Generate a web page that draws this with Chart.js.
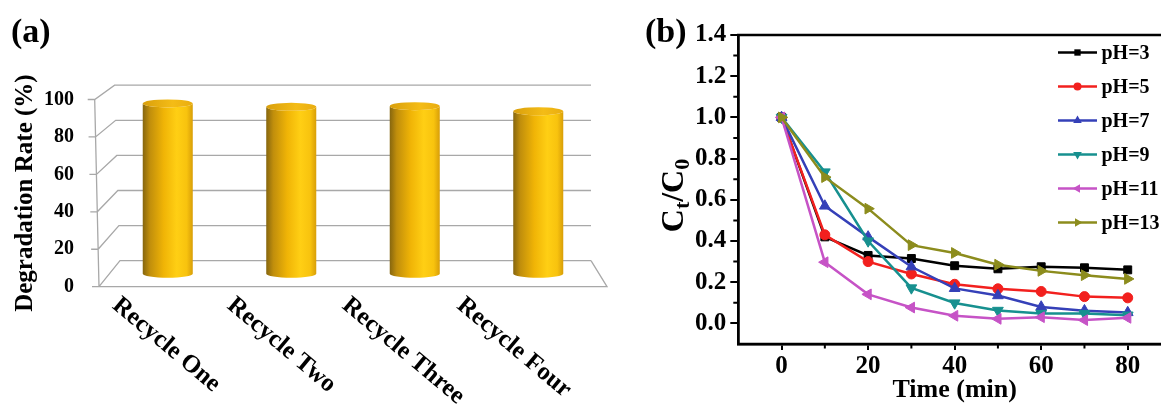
<!DOCTYPE html>
<html>
<head>
<meta charset="utf-8">
<script src="https://cdn.jsdelivr.net/npm/chart.js@4.4.1/dist/chart.umd.min.js"></script>
<style>
  html, body { margin: 0; padding: 0; width: 1161px; height: 406px; overflow: hidden; background: #fff; }
  #wrapA { position: absolute; left: 0; top: 0; width: 620px; height: 406px; }
  #wrapB { position: absolute; left: 640px; top: 0; width: 560px; height: 406px; }
  canvas { display: block; }
</style>
</head>
<body>
<div id="wrapA"><canvas id="cylChart" width="620" height="406"></canvas></div>
<div id="wrapB"><canvas id="phChart" width="560" height="406"></canvas></div>
<script>
// ---- (a) recycling test ----
const recycleLabels = ['Recycle One', 'Recycle Two', 'Recycle Three', 'Recycle Four'];
const degradationRate = [93.9, 92.0, 92.4, 89.6];
const rateTicks = [0, 20, 40, 60, 80, 100];

// ---- (b) effect of pH ----
const timeMin = [0, 10, 20, 30, 40, 50, 60, 70, 80];
const ph3  = [1.0, 0.42, 0.33, 0.315, 0.28, 0.265, 0.275, 0.27, 0.26];
const ph5  = [1.0, 0.43, 0.30, 0.24, 0.19, 0.168, 0.155, 0.13, 0.124];
const ph7  = [1.0, 0.57, 0.42, 0.275, 0.17, 0.135, 0.08, 0.062, 0.053];
const ph9  = [1.0, 0.735, 0.40, 0.172, 0.099, 0.063, 0.048, 0.048, 0.04];
const ph11 = [1.0, 0.297, 0.141, 0.077, 0.037, 0.022, 0.03, 0.016, 0.027];
const ph13 = [1.0, 0.71, 0.557, 0.38, 0.342, 0.285, 0.255, 0.234, 0.216];
const phNames = ['pH=3', 'pH=5', 'pH=7', 'pH=9', 'pH=11', 'pH=13'];
const ratioTicks = [0, 0.2, 0.4, 0.6, 0.8, 1.0, 1.2, 1.4];
const ratioMinorTicks = [0.1, 0.3, 0.5, 0.7, 0.9, 1.1, 1.3];
const timeTicks = [0, 20, 40, 60, 80];
const timeMinorTicks = [10, 30, 50, 70];

const SERIF = '"Liberation Serif", "Times New Roman", Times, serif';

// ---------- panel (a): 3D cylinder columns ----------
// geometry of the box (front plane is the value scale, back wall is shifted up/right)
function boxGeometry(chart) {
  const ys = chart.scales.y, a = chart.chartArea;
  return {
    fy: v => ys.getPixelForValue(v),
    depth: v => -26 + 11.7 * v / 100,
    fxL: v => a.left - 7 - 4.3 * v / 100,
    bxL: v => a.left + 14 - 5.4 * v / 100,
    bxR: a.right - 9,
    fxR: a.right + 7
  };
}

const boxPlugin = {
  id: 'box3d',
  beforeDatasetsDraw(chart) {
    const ctx = chart.ctx, g = boxGeometry(chart);
    ctx.save();
    ctx.strokeStyle = '#a8a8a8';
    ctx.lineWidth = 1.3;
    ctx.beginPath();
    // floor front edge and right side
    ctx.moveTo(g.fxL(0), g.fy(0));
    ctx.lineTo(g.fxR, g.fy(0));
    ctx.lineTo(g.bxR, g.fy(0) + g.depth(0));
    // front vertical edge
    ctx.moveTo(g.fxL(0), g.fy(0));
    ctx.lineTo(g.fxL(100), g.fy(100));
    // tick marks, side-wall diagonals and back-wall gridlines
    rateTicks.forEach(v => {
      const y = g.fy(v), yb = y + g.depth(v);
      ctx.moveTo(g.fxL(v) - 7, y);
      ctx.lineTo(g.fxL(v), y);
      ctx.lineTo(g.bxL(v), yb);
      ctx.lineTo(g.bxR, yb);
    });
    ctx.stroke();
    ctx.restore();
  },
  afterDatasetsDraw(chart) {
    const ctx = chart.ctx, g = boxGeometry(chart);
    const meta = chart.getDatasetMeta(0);
    const values = chart.data.datasets[0].data;
    meta.data.forEach((el, i) => {
      const v = values[i];
      const cx = el.x, r = el.width / 2, ry = 4;
      const top = g.fy(v) + g.depth(v) / 2;
      const bot = g.fy(0) + g.depth(0) / 2;
      const body = ctx.createLinearGradient(cx - r, 0, cx + r, 0);
      body.addColorStop(0, '#86660f');
      body.addColorStop(0.14, '#c08e0c');
      body.addColorStop(0.42, '#f0b406');
      body.addColorStop(0.68, '#ffcf14');
      body.addColorStop(0.88, '#f8c30e');
      body.addColorStop(1, '#d89e08');
      ctx.save();
      ctx.beginPath();
      ctx.moveTo(cx - r, top);
      ctx.lineTo(cx - r, bot);
      ctx.ellipse(cx, bot, r, ry, 0, Math.PI, 0, true);
      ctx.lineTo(cx + r, top);
      ctx.ellipse(cx, top, r, ry, 0, 0, Math.PI, false);
      ctx.closePath();
      ctx.fillStyle = body;
      ctx.fill();
      const cap = ctx.createLinearGradient(cx - r, 0, cx + r, 0);
      cap.addColorStop(0, '#d99f0c');
      cap.addColorStop(0.6, '#f4bc16');
      cap.addColorStop(1, '#e9ad10');
      ctx.beginPath();
      ctx.ellipse(cx, top, r, ry, 0, 0, Math.PI * 2);
      ctx.fillStyle = cap;
      ctx.fill();
      ctx.restore();
    });
  },
  afterDraw(chart) {
    const ctx = chart.ctx, a = chart.chartArea, xs = chart.scales.x;
    ctx.save();
    ctx.fillStyle = '#000';
    // category labels, turned clockwise
    ctx.font = 'bold 25px ' + SERIF;
    ctx.textAlign = 'left';
    ctx.textBaseline = 'top';
    chart.data.labels.forEach((lab, i) => {
      const tx = xs.getPixelForTick(i);
      const ax = a.left + (tx - a.left) * 0.93 - 40;
      ctx.save();
      ctx.translate(ax, a.bottom + 6);
      ctx.rotate(40 * Math.PI / 180);
      ctx.fillText(lab, 0, 0);
      ctx.restore();
    });
    // panel tag
    ctx.font = 'bold 34px ' + SERIF;
    ctx.textBaseline = 'alphabetic';
    ctx.fillText('(a)', 11, 42);
    ctx.restore();
  }
};

new Chart(document.getElementById('cylChart'), {
  type: 'bar',
  data: {
    labels: recycleLabels,
    datasets: [{
      data: degradationRate,
      backgroundColor: 'rgba(0,0,0,0)',
      borderWidth: 0,
      barPercentage: 0.405,
      categoryPercentage: 1
    }]
  },
  options: {
    responsive: false,
    devicePixelRatio: 1,
    animation: false,
    layout: { padding: { top: 99.5, right: 20, bottom: 0, left: 0 } },
    plugins: { legend: { display: false }, tooltip: { enabled: false } },
    scales: {
      x: {
        ticks: { display: false },
        grid: { display: false },
        border: { display: false },
        afterFit: s => { s.height = 119.3; }
      },
      y: {
        min: 0, max: 100,
        afterBuildTicks: s => { s.ticks = rateTicks.map(v => ({ value: v })); },
        afterFit: s => { s.width = 106; },
        grid: { display: false, drawTicks: false },
        border: { display: false },
        ticks: { color: '#000', padding: 32, font: { family: SERIF, size: 20, weight: 'bold' } },
        title: {
          display: true, text: 'Degradation Rate (%)', color: '#000',
          font: { family: SERIF, size: 25, weight: 'bold' },
          padding: { top: 11, bottom: 0 }
        }
      }
    }
  },
  plugins: [boxPlugin]
});

// ---------- panel (b): Ct/C0 versus time ----------
const phSeries = [ph3, ph5, ph7, ph9, ph11, ph13];
const phColors = ['#000000', '#f2201e', '#3540b8', '#17908f', '#c653c6', '#8c8c1d'];
const phMarkers = [
  { style: 'rect', rot: 0, r: 5.6 },
  { style: 'circle', rot: 0, r: 5 },
  { style: 'triangle', rot: 0, r: 6.2 },
  { style: 'triangle', rot: 180, r: 6.2 },
  { style: 'triangle', rot: 270, r: 6.2 },
  { style: 'triangle', rot: 90, r: 6.2 }
];

function drawMarker(ctx, m, x, y, r) {
  ctx.save();
  ctx.translate(x, y);
  ctx.rotate(m.rot * Math.PI / 180);
  ctx.beginPath();
  if (m.style === 'rect') {
    const s = r * Math.SQRT1_2;
    ctx.rect(-s, -s, 2 * s, 2 * s);
  } else if (m.style === 'circle') {
    ctx.arc(0, 0, r, 0, Math.PI * 2);
  } else {
    ctx.moveTo(0, -r);
    ctx.lineTo(r * 0.866, r * 0.5);
    ctx.lineTo(-r * 0.866, r * 0.5);
    ctx.closePath();
  }
  ctx.fill();
  ctx.restore();
}

const framePlugin = {
  id: 'frameAndLegend',
  afterDraw(chart) {
    const ctx = chart.ctx, a = chart.chartArea;
    const xs = chart.scales.x, ys = chart.scales.y;
    ctx.save();
    ctx.strokeStyle = '#000';
    ctx.lineWidth = 2.5;
    ctx.strokeRect(a.left, a.top, a.right - a.left, a.bottom - a.top);
    // minor ticks
    ctx.lineWidth = 2;
    ctx.beginPath();
    ratioMinorTicks.forEach(v => {
      const y = ys.getPixelForValue(v);
      ctx.moveTo(a.left, y);
      ctx.lineTo(a.left - 5, y);
    });
    timeMinorTicks.forEach(v => {
      const x = xs.getPixelForValue(v);
      ctx.moveTo(x, a.bottom);
      ctx.lineTo(x, a.bottom + 4.5);
    });
    ctx.stroke();

    ctx.fillStyle = '#000';
    // y-axis title with subscripts
    ctx.save();
    ctx.translate(43, (a.top + a.bottom) / 2 + 6);
    ctx.rotate(-Math.PI / 2);
    const big = 'bold 32px ' + SERIF, small = 'bold 22px ' + SERIF;
    const parts = [['C', big, 0], ['t', small, 6], ['/', big, 0], ['C', big, 0], ['0', small, 6]];
    let total = 0;
    parts.forEach(p => { ctx.font = p[1]; total += ctx.measureText(p[0]).width; });
    let px = -total / 2;
    ctx.textAlign = 'left';
    ctx.textBaseline = 'alphabetic';
    parts.forEach(p => { ctx.font = p[1]; ctx.fillText(p[0], px, p[2]); px += ctx.measureText(p[0]).width; });
    ctx.restore();

    // legend
    ctx.font = 'bold 20px ' + SERIF;
    ctx.textAlign = 'left';
    ctx.textBaseline = 'middle';
    chart.data.datasets.forEach((ds, i) => {
      const y = 52.5 + i * 34;
      ctx.strokeStyle = ds.borderColor;
      ctx.lineWidth = 2.5;
      ctx.beginPath();
      ctx.moveTo(418, y);
      ctx.lineTo(457, y);
      ctx.stroke();
      ctx.fillStyle = ds.borderColor;
      const m = phMarkers[i];
      drawMarker(ctx, m, 437.5, y, m.r * 0.8);
      ctx.fillStyle = '#000';
      ctx.fillText(ds.label, 461.5, y + 1);
    });

    // panel tag
    ctx.font = 'bold 34px ' + SERIF;
    ctx.textBaseline = 'alphabetic';
    ctx.fillText('(b)', 5, 42);
    ctx.restore();
  }
};

new Chart(document.getElementById('phChart'), {
  type: 'line',
  data: {
    datasets: phSeries.map((vals, i) => ({
      label: phNames[i],
      data: timeMin.map((t, j) => ({ x: t, y: vals[j] })),
      borderColor: phColors[i],
      backgroundColor: phColors[i],
      pointBackgroundColor: phColors[i],
      pointBorderColor: phColors[i],
      pointBorderWidth: 1,
      pointStyle: phMarkers[i].style,
      rotation: phMarkers[i].rot,
      pointRadius: phMarkers[i].r,
      borderWidth: 2.5,
      tension: 0,
      fill: false,
      order: phSeries.length - i
    }))
  },
  options: {
    responsive: false,
    devicePixelRatio: 1,
    animation: false,
    layout: { padding: { top: 35, right: 29, bottom: 0, left: 0 } },
    plugins: { legend: { display: false }, tooltip: { enabled: false } },
    scales: {
      x: {
        type: 'linear', min: -10, max: 90,
        afterBuildTicks: s => { s.ticks = timeTicks.map(v => ({ value: v })); },
        afterFit: s => { s.height = 62; },
        grid: { drawOnChartArea: false, drawTicks: true, tickLength: 6, color: '#000', lineWidth: 2 },
        border: { display: true, color: '#000', width: 2.5 },
        ticks: { color: '#000', padding: 2, font: { family: SERIF, size: 25, weight: 'bold' } },
        title: {
          display: true, text: 'Time (min)', color: '#000',
          font: { family: SERIF, size: 26, weight: 'bold' },
          padding: { top: 0, bottom: 0 }
        }
      },
      y: {
        type: 'linear', min: -0.1, max: 1.4,
        afterBuildTicks: s => { s.ticks = ratioTicks.map(v => ({ value: v })); },
        afterFit: s => { s.width = 98.3; },
        grid: { drawOnChartArea: false, drawTicks: true, tickLength: 8, color: '#000', lineWidth: 2 },
        border: { display: true, color: '#000', width: 2.5 },
        ticks: {
          color: '#000', padding: 4,
          font: { family: SERIF, size: 25, weight: 'bold' },
          callback: v => Number(v).toFixed(1)
        }
      }
    }
  },
  plugins: [framePlugin]
});
</script>
</body>
</html>
